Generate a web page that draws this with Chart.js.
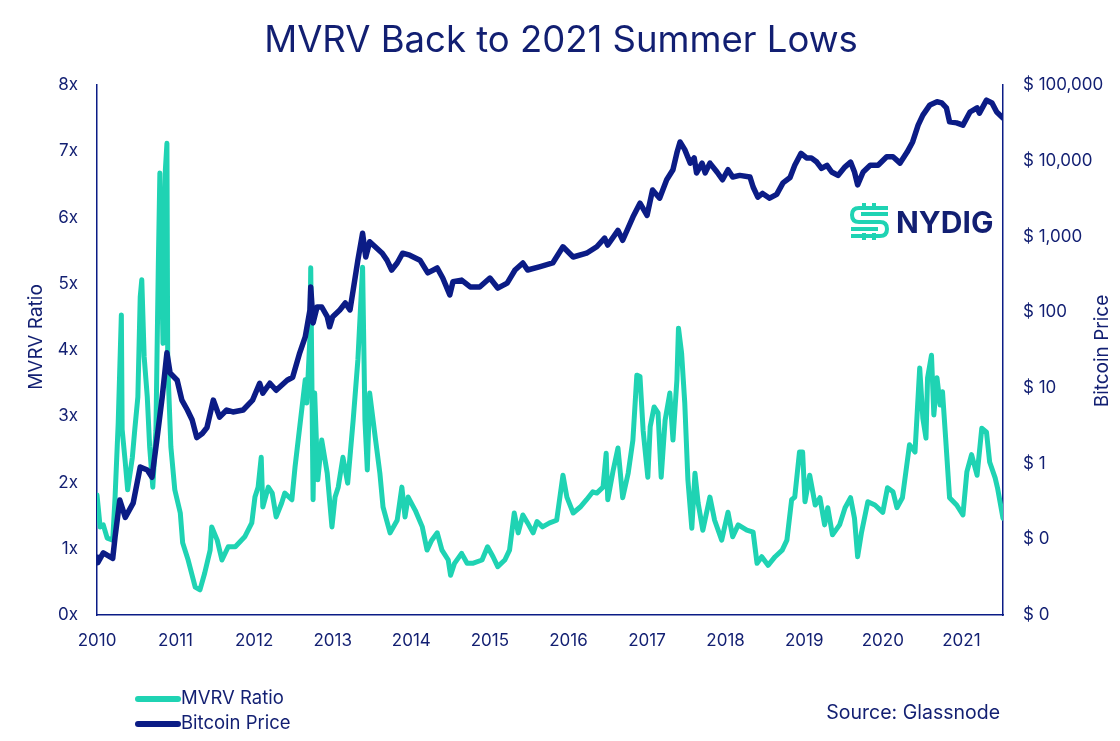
<!DOCTYPE html>
<html>
<head>
<meta charset="utf-8">
<script src="https://cdn.jsdelivr.net/npm/chart.js@4.4.0/dist/chart.umd.min.js"></script>
<style>
  html, body { margin: 0; padding: 0; background: #ffffff; }
  #wrap { width: 1120px; height: 741px; position: relative; }
</style>
</head>
<body>
<div id="wrap"><canvas id="c" width="1120" height="741"></canvas></div>
<script>
// ---- Data ----
const yearTicks = [2010, 2011, 2012, 2013, 2014, 2015, 2016, 2017, 2018, 2019, 2020, 2021];
const mvrvTickLabels = ['0x', '1x', '2x', '3x', '4x', '5x', '6x', '7x', '8x'];
const priceTicks = [0.01, 0.1, 1, 10, 100, 1000, 10000, 100000];
const priceTickLabels = ['$ 0', '$ 0', '$ 1', '$ 10', '$ 100', '$ 1,000', '$ 10,000', '$ 100,000'];

const mvrvYears = [
  2010.00, 2010.04, 2010.08, 2010.13, 2010.20, 2010.23, 2010.27, 2010.31, 2010.32, 2010.36,
  2010.39, 2010.45, 2010.48, 2010.52, 2010.55, 2010.57, 2010.60, 2010.64, 2010.67, 2010.71,
  2010.75, 2010.78, 2010.80, 2010.84, 2010.87, 2010.89, 2010.90, 2010.94, 2010.99, 2011.06,
  2011.09, 2011.16, 2011.25, 2011.31, 2011.37, 2011.44, 2011.46, 2011.53, 2011.59, 2011.67,
  2011.76, 2011.88, 2011.97, 2012.01, 2012.05, 2012.09, 2012.11, 2012.18, 2012.23, 2012.28,
  2012.35, 2012.39, 2012.48, 2012.52, 2012.58, 2012.65, 2012.67, 2012.71, 2012.72, 2012.75,
  2012.77, 2012.81, 2012.86, 2012.93, 2012.99, 2013.03, 2013.07, 2013.13, 2013.19, 2013.26,
  2013.32, 2013.38, 2013.41, 2013.44, 2013.47, 2013.54, 2013.60, 2013.64, 2013.73, 2013.82,
  2013.88, 2013.92, 2013.96, 2014.05, 2014.14, 2014.20, 2014.26, 2014.33, 2014.39, 2014.47,
  2014.50, 2014.55, 2014.64, 2014.71, 2014.78, 2014.90, 2014.97, 2015.04, 2015.10, 2015.19,
  2015.25, 2015.31, 2015.36, 2015.42, 2015.48, 2015.55, 2015.60, 2015.67, 2015.76, 2015.85,
  2015.93, 2015.98, 2016.06, 2016.15, 2016.23, 2016.31, 2016.36, 2016.44, 2016.48, 2016.50,
  2016.57, 2016.63, 2016.69, 2016.76, 2016.82, 2016.87, 2016.91, 2016.95, 2017.01, 2017.04,
  2017.09, 2017.14, 2017.18, 2017.23, 2017.29, 2017.33, 2017.38, 2017.40, 2017.44, 2017.48,
  2017.52, 2017.57, 2017.61, 2017.65, 2017.71, 2017.80, 2017.86, 2017.95, 2018.03, 2018.09,
  2018.16, 2018.27, 2018.35, 2018.40, 2018.46, 2018.54, 2018.63, 2018.72, 2018.78, 2018.84,
  2018.88, 2018.94, 2018.98, 2019.01, 2019.07, 2019.14, 2019.20, 2019.26, 2019.30, 2019.36,
  2019.45, 2019.52, 2019.59, 2019.64, 2019.68, 2019.73, 2019.81, 2019.90, 2020.00, 2020.06,
  2020.13, 2020.18, 2020.25, 2020.34, 2020.41, 2020.47, 2020.51, 2020.55, 2020.57, 2020.62,
  2020.65, 2020.69, 2020.73, 2020.76, 2020.80, 2020.85, 2020.94, 2021.02, 2021.07, 2021.13,
  2021.20, 2021.26, 2021.32, 2021.36, 2021.43, 2021.46, 2021.53
];
const mvrvValues = [
  1.81, 1.33, 1.36, 1.16, 1.13, 1.78, 2.90, 4.53, 2.80, 2.30,
  1.89, 2.38, 2.79, 3.29, 4.80, 5.06, 3.90, 3.29, 2.54, 1.93,
  2.79, 5.25, 6.67, 4.10, 6.72, 7.12, 3.80, 2.54, 1.89, 1.54,
  1.09, 0.83, 0.42, 0.38, 0.63, 0.98, 1.33, 1.13, 0.83, 1.03,
  1.03, 1.18, 1.39, 1.78, 1.93, 2.38, 1.63, 1.93, 1.84, 1.48,
  1.69, 1.84, 1.74, 2.23, 2.84, 3.55, 3.20, 4.20, 5.24, 1.74,
  3.35, 2.04, 2.64, 2.14, 1.33, 1.78, 1.93, 2.38, 1.99, 2.94,
  3.85, 5.25, 2.94, 2.19, 3.35, 2.69, 2.14, 1.63, 1.24, 1.43,
  1.93, 1.48, 1.78, 1.58, 1.33, 0.98, 1.13, 1.24, 0.98, 0.83,
  0.60, 0.78, 0.93, 0.78, 0.78, 0.83, 1.03, 0.88, 0.73, 0.83,
  0.98, 1.54, 1.24, 1.51, 1.39, 1.24, 1.41, 1.33, 1.39, 1.43,
  2.11, 1.78, 1.54, 1.63, 1.74, 1.86, 1.84, 1.93, 2.44, 1.74,
  2.19, 2.52, 1.77, 2.14, 2.64, 3.62, 3.60, 2.79, 2.08, 2.84,
  3.14, 3.05, 2.08, 2.94, 3.35, 2.64, 3.55, 4.33, 3.95, 3.20,
  2.04, 1.31, 2.14, 1.69, 1.28, 1.78, 1.43, 1.13, 1.55, 1.18,
  1.36, 1.28, 1.25, 0.78, 0.88, 0.75, 0.88, 0.98, 1.13, 1.74,
  1.78, 2.46, 2.46, 1.71, 2.11, 1.66, 1.77, 1.36, 1.62, 1.21,
  1.36, 1.62, 1.77, 1.46, 0.88, 1.25, 1.71, 1.66, 1.55, 1.92,
  1.86, 1.62, 1.77, 2.57, 2.46, 3.73, 2.97, 2.67, 3.58, 3.92,
  3.02, 3.58, 3.17, 3.37, 2.67, 1.77, 1.66, 1.51, 2.16, 2.42,
  2.11, 2.82, 2.76, 2.31, 2.07, 1.92, 1.46
];

const priceYears = [
  2010.00, 2010.01, 2010.08, 2010.20, 2010.23, 2010.29, 2010.36, 2010.46, 2010.55, 2010.64,
  2010.70, 2010.76, 2010.83, 2010.89, 2010.93, 2011.02, 2011.08, 2011.15, 2011.21, 2011.27,
  2011.34, 2011.40, 2011.48, 2011.56, 2011.65, 2011.73, 2011.86, 2011.98, 2012.07, 2012.11,
  2012.20, 2012.28, 2012.42, 2012.49, 2012.58, 2012.65, 2012.71, 2012.72, 2012.75, 2012.80,
  2012.86, 2012.93, 2012.96, 2013.00, 2013.09, 2013.16, 2013.22, 2013.26, 2013.32, 2013.38,
  2013.42, 2013.47, 2013.54, 2013.63, 2013.69, 2013.75, 2013.82, 2013.89, 2013.98, 2014.11,
  2014.21, 2014.33, 2014.40, 2014.49, 2014.53, 2014.64, 2014.75, 2014.87, 2015.00, 2015.10,
  2015.22, 2015.32, 2015.42, 2015.48, 2015.64, 2015.80, 2015.93, 2016.06, 2016.23, 2016.36,
  2016.46, 2016.50, 2016.63, 2016.69, 2016.82, 2016.91, 2017.00, 2017.07, 2017.16, 2017.25,
  2017.33, 2017.38, 2017.42, 2017.48, 2017.55, 2017.60, 2017.63, 2017.70, 2017.74, 2017.80,
  2017.89, 2017.96, 2018.03, 2018.09, 2018.18, 2018.31, 2018.35, 2018.41, 2018.47, 2018.56,
  2018.65, 2018.73, 2018.82, 2018.88, 2018.96, 2019.03, 2019.09, 2019.16, 2019.22, 2019.29,
  2019.35, 2019.43, 2019.52, 2019.59, 2019.64, 2019.68, 2019.75, 2019.84, 2019.94, 2020.05,
  2020.13, 2020.22, 2020.31, 2020.38, 2020.45, 2020.51, 2020.60, 2020.69, 2020.75, 2020.81,
  2020.85, 2020.94, 2021.02, 2021.11, 2021.20, 2021.23, 2021.32, 2021.39, 2021.45, 2021.53
];
const priceValues = [
  0.058, 0.049, 0.066, 0.056, 0.107, 0.33, 0.195, 0.30, 0.90, 0.82,
  0.66, 2.0, 7.6, 29, 15.7, 12.6, 6.9, 5.1, 3.8, 2.2,
  2.5, 3.0, 6.9, 4.1, 5.1, 4.8, 5.1, 6.9, 11.5, 8.5,
  11.5, 9.3, 12.6, 13.8, 29, 47, 107, 215, 72, 117,
  117, 87, 64, 87, 107, 132, 107, 195, 486, 1100,
  535, 850, 730, 600, 486, 360, 446, 600, 565, 486,
  330, 383, 282, 169, 252, 265, 215, 215, 282, 208,
  242, 360, 446, 360, 400, 446, 730, 535, 600, 730,
  950, 770, 1200, 890, 1800, 2750, 1900, 4100, 3200, 5600,
  7600, 12700, 17700, 14000, 9300, 10900, 6900, 9300, 6900, 9300,
  7100, 5600, 7600, 6100, 6400, 6100, 4500, 3300, 3700, 3200,
  3600, 5100, 6000, 8700, 12500, 10900, 10900, 9600, 7900, 8700,
  7100, 6400, 8300, 9600, 7100, 4800, 7100, 8700, 8700, 11300,
  11300, 9300, 13000, 17700, 29500, 40000, 54600, 60000, 58000, 50000,
  32600, 31600, 29500, 44000, 50000, 42500, 63000, 58000, 44000, 36500
];

// ---- Styling ----
const TEAL = '#1fd3b3';
const NAVY_LINE = '#0b1c86';
const NAVY_TEXT = '#121f72';
const FONT = 'Inter, "Noto Sans", sans-serif';

const mvrvPoints = mvrvYears.map((x, i) => ({ x: x, y: mvrvValues[i] }));
const pricePoints = priceYears.map((x, i) => ({ x: x, y: priceValues[i] }));

const decorPlugin = {
  id: 'decor',
  afterDraw(chart) {
    const ctx = chart.ctx;
    ctx.save();
    ctx.fillStyle = NAVY_TEXT;
    // Title
    ctx.font = '400 36.5px ' + FONT;
    ctx.textAlign = 'center';
    ctx.textBaseline = 'alphabetic';
    ctx.fillText('MVRV Back to 2021 Summer Lows', 561, 52);

    // Axis titles
    ctx.font = '400 19px ' + FONT;
    ctx.textBaseline = 'middle';
    ctx.save();
    ctx.translate(36, 337);
    ctx.rotate(-Math.PI / 2);
    ctx.fillText('MVRV Ratio', 0, 0);
    ctx.restore();
    ctx.save();
    ctx.translate(1102, 351);
    ctx.rotate(-Math.PI / 2);
    ctx.fillText('Bitcoin Price', 0, 0);
    ctx.restore();

    // Legend
    ctx.lineCap = 'round';
    ctx.lineWidth = 6;
    ctx.strokeStyle = TEAL;
    ctx.beginPath(); ctx.moveTo(138, 699); ctx.lineTo(178, 699); ctx.stroke();
    ctx.strokeStyle = NAVY_LINE;
    ctx.beginPath(); ctx.moveTo(138, 724); ctx.lineTo(178, 724); ctx.stroke();
    ctx.font = '400 18.5px ' + FONT;
    ctx.textAlign = 'left';
    ctx.fillText('MVRV Ratio', 181, 698);
    ctx.fillText('Bitcoin Price', 181, 723);

    // Source
    ctx.textAlign = 'right';
    ctx.font = '400 19.5px ' + FONT;
    ctx.fillText('Source: Glassnode', 1000, 713);

    // Logo
    ctx.strokeStyle = TEAL;
    ctx.lineWidth = 4;
    ctx.lineCap = 'butt';
    ctx.lineJoin = 'round';
    ctx.beginPath();
    ctx.moveTo(864, 203); ctx.lineTo(864, 210);
    ctx.moveTo(874, 203); ctx.lineTo(874, 210);
    ctx.moveTo(864, 233); ctx.lineTo(864, 240);
    ctx.moveTo(874, 233); ctx.lineTo(874, 240);
    ctx.stroke();
    ctx.beginPath();
    ctx.moveTo(888, 208); ctx.lineTo(859, 208);
    ctx.quadraticCurveTo(852, 208, 852, 215);
    ctx.quadraticCurveTo(852, 222, 859, 222);
    ctx.lineTo(880, 222);
    ctx.quadraticCurveTo(887, 222, 887, 229);
    ctx.quadraticCurveTo(887, 236, 880, 236);
    ctx.lineTo(851, 236);
    ctx.stroke();
    ctx.beginPath();
    ctx.moveTo(888, 214); ctx.lineTo(861, 214);
    ctx.moveTo(851, 229); ctx.lineTo(878, 229);
    ctx.stroke();

    ctx.fillStyle = NAVY_TEXT;
    ctx.font = '700 30px ' + FONT;
    ctx.textAlign = 'left';
    ctx.textBaseline = 'alphabetic';
    ctx.fillText('NYDIG', 896, 233);
    ctx.restore();
  }
};

new Chart(document.getElementById('c'), {
  type: 'line',
  data: {
    datasets: [
      {
        label: 'MVRV Ratio',
        data: mvrvPoints,
        yAxisID: 'y',
        borderColor: TEAL,
        borderWidth: 5,
        pointRadius: 0,
        tension: 0,
        borderJoinStyle: 'round',
        borderCapStyle: 'round',
        order: 2
      },
      {
        label: 'Bitcoin Price',
        data: pricePoints,
        yAxisID: 'y2',
        borderColor: NAVY_LINE,
        borderWidth: 5.5,
        pointRadius: 0,
        tension: 0,
        borderJoinStyle: 'round',
        borderCapStyle: 'round',
        order: 1
      }
    ]
  },
  options: {
    responsive: false,
    animation: false,
    events: [],
    layout: { padding: { top: 85, left: 0, right: 0, bottom: 0 } },
    plugins: {
      legend: { display: false },
      tooltip: { enabled: false },
      title: { display: false }
    },
    scales: {
      x: {
        type: 'linear',
        position: 'bottom',
        min: 2010,
        max: 2021.53,
        afterBuildTicks: (s) => { s.ticks = yearTicks.map(v => ({ value: v })); },
        afterFit: (s) => { s.height = 126; },
        ticks: {
          color: NAVY_TEXT,
          font: { family: FONT, size: 17 },
          padding: 16,
          maxRotation: 0,
          autoSkip: false,
          callback: (v) => String(v)
        },
        grid: { display: true, color: 'rgba(0,0,0,0)', drawTicks: false },
        border: { display: true, color: NAVY_LINE, width: 1.5 }
      },
      y: {
        type: 'linear',
        position: 'left',
        min: 0,
        max: 8,
        afterBuildTicks: (s) => { s.ticks = mvrvTickLabels.map((_, i) => ({ value: i })); },
        afterFit: (s) => { s.width = 97; },
        ticks: {
          color: NAVY_TEXT,
          font: { family: FONT, size: 17 },
          padding: 19,
          callback: (v, i) => mvrvTickLabels[i]
        },
        grid: { display: true, color: 'rgba(0,0,0,0)', drawTicks: false },
        border: { display: true, color: NAVY_LINE, width: 1.5 }
      },
      y2: {
        type: 'logarithmic',
        position: 'right',
        min: 0.01,
        max: 100000,
        afterBuildTicks: (s) => { s.ticks = priceTicks.map(v => ({ value: v })); },
        afterFit: (s) => { s.width = 117; },
        ticks: {
          color: NAVY_TEXT,
          font: { family: FONT, size: 17 },
          padding: 20,
          autoSkip: false,
          callback: (v, i) => priceTickLabels[i]
        },
        grid: { display: true, color: 'rgba(0,0,0,0)', drawTicks: false, drawOnChartArea: false },
        border: { display: true, color: NAVY_LINE, width: 1.5 }
      }
    }
  },
  plugins: [decorPlugin]
});
</script>
</body>
</html>
